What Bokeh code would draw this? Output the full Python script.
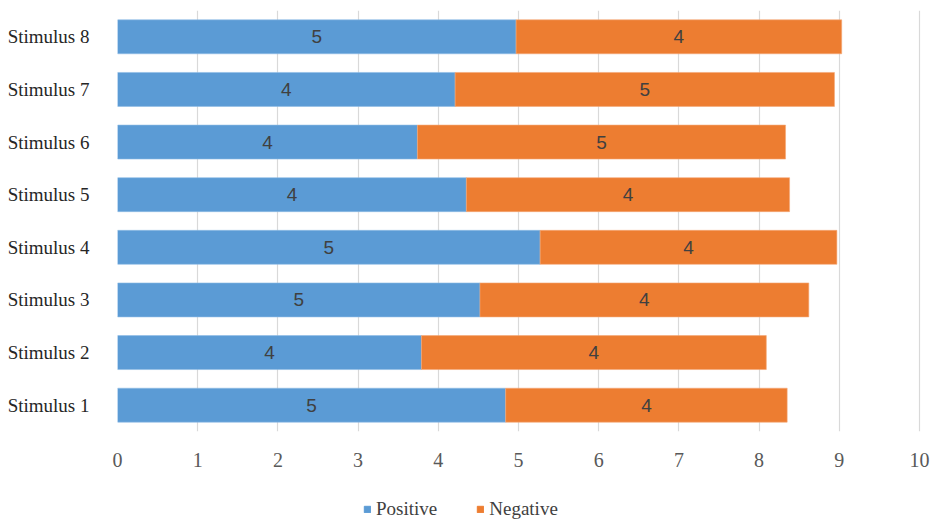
from bokeh.plotting import figure
from bokeh.layouts import column
from bokeh.models import ColumnDataSource, Legend, LegendItem, FixedTicker, FactorRange, Range1d
from bokeh.core.properties import value
from bokeh.embed import file_html
from bokeh.resources import INLINE

stimuli = ["Stimulus 1", "Stimulus 2", "Stimulus 3", "Stimulus 4",
           "Stimulus 5", "Stimulus 6", "Stimulus 7", "Stimulus 8"]
positive = [4.84, 3.79, 4.52, 5.27, 4.35, 3.74, 4.21, 4.97]
negative = [3.51, 4.30, 4.10, 3.70, 4.03, 4.59, 4.73, 4.06]
x_ticks = [0, 1, 2, 3, 4, 5, 6, 7, 8, 9, 10]
series_names = ["Positive", "Negative"]

BLUE = "#5B9BD5"
ORANGE = "#ED7D31"

total = [a + b for a, b in zip(positive, negative)]
src = ColumnDataSource(dict(
    stim=stimuli,
    pos=positive,
    neg=negative,
    total=total,
    pos_mid=[a / 2 for a in positive],
    neg_mid=[a + b / 2 for a, b in zip(positive, negative)],
    pos_lbl=[str(round(a)) for a in positive],
    neg_lbl=[str(round(b)) for b in negative],
))

p = figure(width=935, height=485, y_range=FactorRange(*stimuli),
           x_range=Range1d(0, 10.05), output_backend="svg", toolbar_location=None,
           min_border_left=117, min_border_right=12, min_border_top=10,
           min_border_bottom=54)

p.hbar(y="stim", left=0, right="pos", height=0.645, source=src,
       fill_color=BLUE, line_color="#8fbce6", line_width=0.6)
p.hbar(y="stim", left="pos", right="total", height=0.645, source=src,
       fill_color=ORANGE, line_color="#f5a877", line_width=0.6)

for col, lbl in (("pos_mid", "pos_lbl"), ("neg_mid", "neg_lbl")):
    p.text(x=col, y="stim", text=lbl, source=src, text_align="center",
           text_baseline="middle", text_font=value("Liberation Sans"),
           text_font_size="19px", text_color="#404040")

p.outline_line_color = None
p.ygrid.grid_line_color = None
p.xgrid.grid_line_color = "#d9d9d9"
p.xgrid.grid_line_width = 1.2

p.xaxis.ticker = FixedTicker(ticks=x_ticks)
p.xaxis.axis_line_color = None
p.xaxis.major_tick_line_color = None
p.xaxis.minor_tick_line_color = None
p.xaxis.major_label_text_font = "Liberation Serif"
p.xaxis.major_label_text_font_size = "20px"
p.xaxis.major_label_text_color = "#595959"
p.xaxis.major_label_standoff = 15

p.yaxis.axis_line_color = None
p.yaxis.major_tick_line_color = None
p.yaxis.minor_tick_line_color = None
p.yaxis.major_label_text_font = "Liberation Serif"
p.yaxis.major_label_text_font_size = "19px"
p.yaxis.major_label_text_color = "#262626"
p.yaxis.major_label_standoff = 22

# legend strip below the chart (proxy renderers sit outside its visible range)
lg = figure(width=935, height=36, output_backend="svg", toolbar_location=None,
            x_axis_type=None, y_axis_type=None, min_border=0,
            x_range=Range1d(0, 1), y_range=Range1d(100, 101))
lg.outline_line_color = None
lg.xgrid.grid_line_color = None
lg.ygrid.grid_line_color = None
sw_pos = lg.hbar(y=0, left=0, right="pos", height=0.5, source=src,
                 fill_color=BLUE, line_color=BLUE)
sw_neg = lg.hbar(y=0, left="pos", right="total", height=0.5, source=src,
                 fill_color=ORANGE, line_color=ORANGE)

legend = Legend(items=[LegendItem(label=series_names[0], renderers=[sw_pos]),
                       LegendItem(label=series_names[1], renderers=[sw_neg])],
                orientation="horizontal", location=(246, 1))
legend.label_text_font = "Liberation Serif"
legend.label_text_font_size = "19px"
legend.label_text_color = "#404040"
legend.glyph_width = 8
legend.glyph_height = 8
legend.label_standoff = 5
legend.spacing = 39
legend.padding = 0
legend.margin = 0
legend.border_line_color = None
legend.background_fill_alpha = 0
lg.add_layout(legend, "center")

layout = column(p, lg, spacing=0)
open("out.html", "w").write(file_html(layout, INLINE))
